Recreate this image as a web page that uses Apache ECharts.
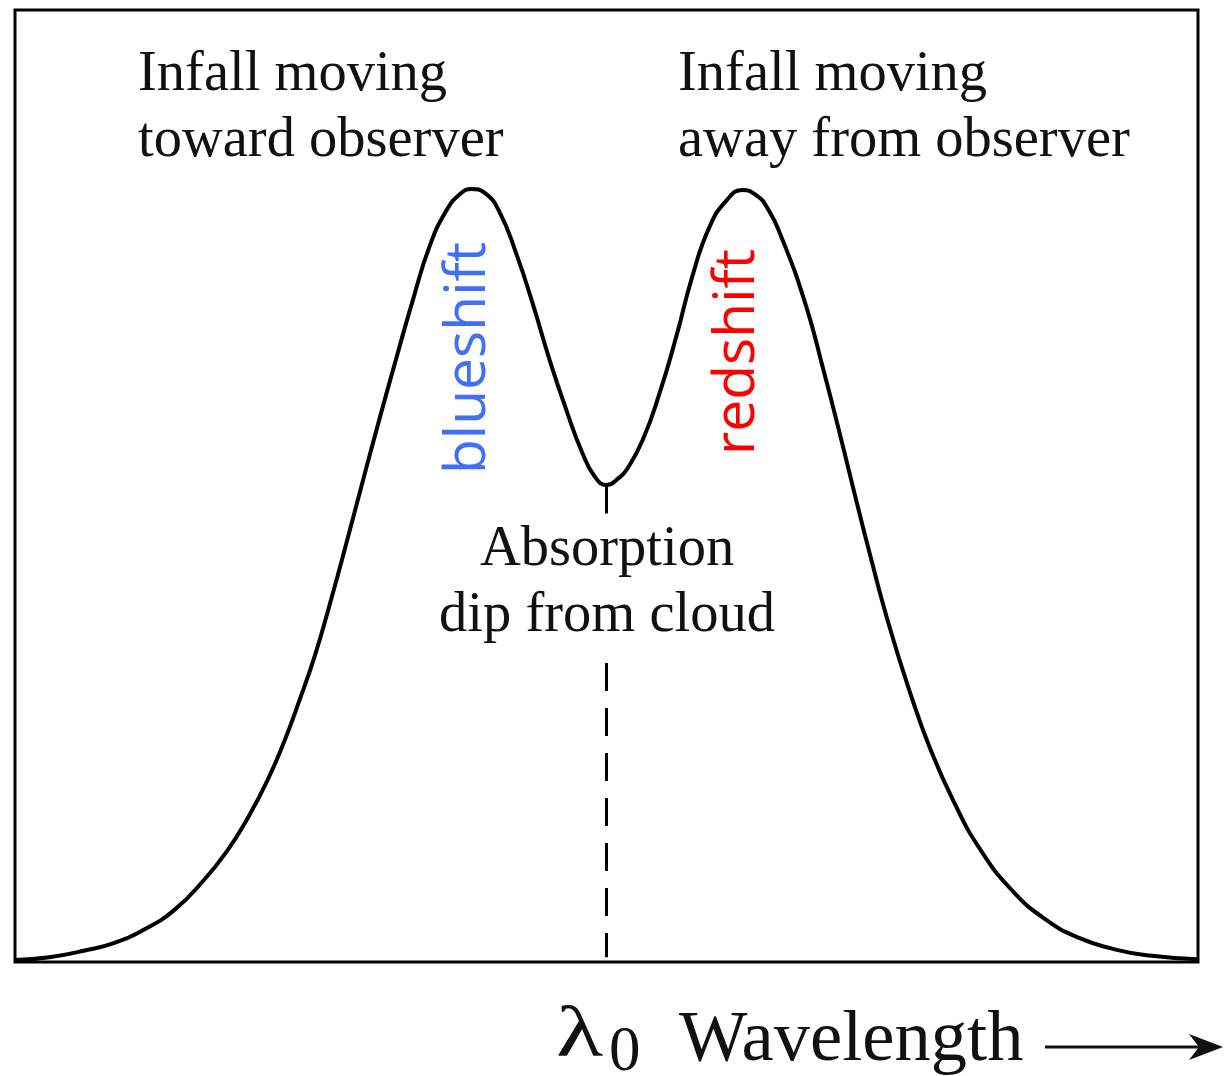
<!DOCTYPE html>
<html>
<head>
<meta charset="utf-8">
<title>Infall line profile</title>
<script src="https://cdn.jsdelivr.net/npm/echarts@6/dist/echarts.min.js"></script>
<style>
  html, body { margin: 0; padding: 0; background: #fff; }
  #chart { width: 1225px; height: 1076px; }
</style>
</head>
<body>
<div id="chart"></div>
<script>
// Wavelength offset from the rest wavelength λ0 (arbitrary units)
const wavelengthOffset = [
  -10.0, -9.42, -8.82, -8.32, -7.76, -7.30, -6.85, -6.41, -6.04, -5.73,
  -5.44, -5.19, -4.92, -4.65, -4.38, -4.13, -3.84, -3.55, -3.28, -2.99,
  -2.71, -2.49, -2.28, -2.06, -1.81, -1.52, -1.25, -0.96, -0.68, -0.41,
  -0.20, 0.00, 0.22, 0.34, 0.61, 0.90, 1.18, 1.45, 1.74, 2.03,
  2.30, 2.54, 2.71, 2.98, 3.38, 3.65, 3.94, 4.19, 4.45, 4.78,
  5.17, 5.46, 5.85, 6.31, 6.86, 7.44, 8.00, 8.55, 9.13, 10.0
];
// Line intensity (arbitrary units)
const intensity = [
  0.2, 0.5, 1.2, 2.0, 3.6, 5.5, 8.3, 11.7, 15.4, 19.1,
  23.3, 27.5, 32.4, 38.2, 44.4, 50.3, 57.0, 63.5, 69.4, 75.2,
  78.9, 80.6, 81.2, 80.8, 78.8, 74.3, 69.2, 63.2, 58.0, 53.5,
  51.0, 50.1, 50.9, 51.7, 54.8, 59.8, 65.7, 72.0, 77.2, 80.0,
  81.1, 80.5, 79.3, 75.8, 68.8, 62.6, 55.6, 49.3, 42.9, 35.3,
  27.6, 22.6, 17.1, 11.9, 7.5, 4.4, 2.5, 1.4, 0.7, 0.3
];
// Rest wavelength marker: short solid stub below the dip, dashed guide to the axis
const lambda0 = 0;
const stubRange = [50.1, 47.1];
const guideRange = [31.4, 0.5];

const xRange = [-10, 10];
const yRange = [0, 100];

const profile = wavelengthOffset.map((x, i) => [x, intensity[i]]);

const chart = echarts.init(document.getElementById('chart'), null, { renderer: 'canvas' });

const serif = '"Liberation Serif", "DejaVu Serif", serif';
const sans = '"Open Sans", "Noto Sans", sans-serif';

chart.setOption({
  animation: false,
  backgroundColor: '#ffffff',
  grid: {
    left: 15, right: 27, top: 10, bottom: 114,
    show: true, borderColor: '#000', borderWidth: 3, backgroundColor: 'transparent'
  },
  xAxis: {
    type: 'value', min: xRange[0], max: xRange[1],
    axisLine: { show: false }, axisTick: { show: false },
    axisLabel: { show: false }, splitLine: { show: false }
  },
  yAxis: {
    type: 'value', min: yRange[0], max: yRange[1],
    axisLine: { show: false }, axisTick: { show: false },
    axisLabel: { show: false }, splitLine: { show: false }
  },
  series: [
    {
      type: 'line', data: profile, smooth: 0.5, showSymbol: false,
      lineStyle: { color: '#000', width: 4 }, z: 3
    },
    {
      type: 'line', data: stubRange.map(v => [lambda0, v]), showSymbol: false,
      lineStyle: { color: '#000', width: 3 }
    },
    {
      type: 'line', data: guideRange.map(v => [lambda0, v]), showSymbol: false,
      lineStyle: { color: '#000', width: 3, type: [28, 17] }
    }
  ],
  graphic: [
    { type: 'text', x: 138, y: 75, style: { text: 'Infall moving', font: '56.5px ' + serif, fill: '#111', align: 'left', verticalAlign: 'middle' } },
    { type: 'text', x: 138, y: 141, style: { text: 'toward observer', font: '56.5px ' + serif, fill: '#111', align: 'left', verticalAlign: 'middle' } },
    { type: 'text', x: 678, y: 75, style: { text: 'Infall moving', font: '56.5px ' + serif, fill: '#111', align: 'left', verticalAlign: 'middle' } },
    { type: 'text', x: 678, y: 141, style: { text: 'away from observer', font: '56.5px ' + serif, fill: '#111', align: 'left', verticalAlign: 'middle' } },
    { type: 'text', x: 607, y: 550, style: { text: 'Absorption', font: '56.5px ' + serif, fill: '#111', align: 'center', verticalAlign: 'middle' } },
    { type: 'text', x: 607, y: 616, style: { text: 'dip from cloud', font: '56.5px ' + serif, fill: '#111', align: 'center', verticalAlign: 'middle' } },
    { type: 'text', x: 469, y: 358, rotation: Math.PI / 2, style: { text: 'blueshift', font: '57px ' + sans, fill: '#4070f4', align: 'center', verticalAlign: 'middle' } },
    { type: 'text', x: 738, y: 352, rotation: Math.PI / 2, style: { text: 'redshift', font: '57px ' + sans, fill: '#ff0000', align: 'center', verticalAlign: 'middle' } },
    { type: 'text', x: 556, y: 1037, scaleX: 1.35, style: { text: 'λ', font: '72px ' + serif, fill: '#111', align: 'left', verticalAlign: 'middle' } },
    { type: 'text', x: 609, y: 1053, style: { text: '0', font: '63px ' + serif, fill: '#111', align: 'left', verticalAlign: 'middle' } },
    { type: 'text', x: 679, y: 1041, style: { text: 'Wavelength', font: '72.5px ' + serif, fill: '#111', align: 'left', verticalAlign: 'middle' } },
    { type: 'line', shape: { x1: 1045, y1: 1047, x2: 1205, y2: 1047 }, style: { stroke: '#111', lineWidth: 3 } },
    { type: 'polygon', shape: { points: [[1223, 1047], [1189, 1034], [1199, 1047], [1189, 1060]] }, style: { fill: '#111' } }
  ]
});
</script>
</body>
</html>
